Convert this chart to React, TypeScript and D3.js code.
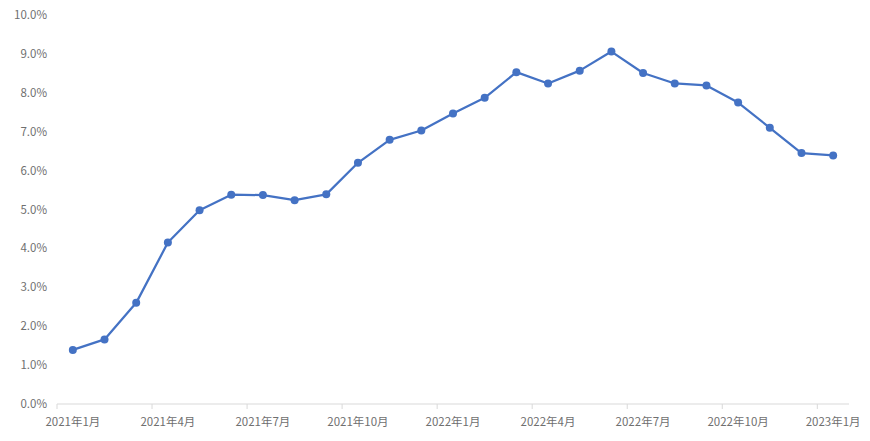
import React from 'react';
import * as d3 from 'd3';

const months = [
    '2021-01', '2021-02', '2021-03', '2021-04', '2021-05', '2021-06', '2021-07', '2021-08', '2021-09',
    '2021-10', '2021-11', '2021-12', '2022-01', '2022-02', '2022-03', '2022-04', '2022-05', '2022-06',
    '2022-07', '2022-08', '2022-09', '2022-10', '2022-11', '2022-12', '2023-01',
];
const rates = [
    1.39, 1.66, 2.60, 4.15, 4.98, 5.38, 5.37, 5.24, 5.39,
    6.20, 6.79, 7.03, 7.47, 7.87, 8.53, 8.24, 8.57, 9.06,
    8.51, 8.24, 8.19, 7.75, 7.10, 6.45, 6.39,
];
const tickMonths = ['2021-01', '2021-04', '2021-07', '2021-10', '2022-01', '2022-04', '2022-07', '2022-10', '2023-01'];
const tickLabels = ['2021年1月', '2021年4月', '2021年7月', '2021年10月', '2022年1月', '2022年4月', '2022年7月', '2022年10月', '2023年1月'];
const yTicks = [0, 1, 2, 3, 4, 5, 6, 7, 8, 9, 10];

const W = 870;
const H = 441;
const left = 57;
const right = 849;
const top = 15;
const bottom = 404;
const font = '"Noto Sans CJK JP", "Noto Sans", sans-serif';
const blue = '#4472C4';
const textGray = '#6f6f6f';

export default function App() {
    const x = d3.scaleBand<string>().domain(months).range([left, right]).padding(0);
    const y = d3.scaleLinear().domain([0, 10]).range([bottom, top]);
    const cx = (m: string) => (x(m) ?? 0) + x.bandwidth() / 2;

    const line = d3.line<number>()
        .x((_, i) => cx(months[i]))
        .y(d => y(d));

    return (
        <svg width={W} height={H} style={{ position: 'absolute', left: 0, top: 0, background: '#fff' }}>
            {/* y labels, no gridlines */}
            {yTicks.map(t => (
                <text key={t} x={47} y={y(t)} dy="0.35em" textAnchor="end"
                    fontSize={11.5} fill={textGray} fontFamily={font}>
                    {d3.format('.1f')(t)}%
                </text>
            ))}
            {/* x axis */}
            <line x1={left} x2={right} y1={bottom} y2={bottom} stroke="#d9d9d9" strokeWidth={1} />
            {tickMonths.map(m => (
                <line key={m} x1={x(m)} x2={x(m)} y1={bottom} y2={bottom + 5} stroke="#d9d9d9" strokeWidth={1} />
            ))}
            {tickMonths.map((m, i) => (
                <text key={m} x={cx(m)} y={422} dy="0.35em" textAnchor="middle"
                    fontSize={11.5} fill={textGray} fontFamily={font}>
                    {tickLabels[i]}
                </text>
            ))}
            <path d={line(rates) ?? ''} fill="none" stroke={blue} strokeWidth={2.25} strokeLinejoin="round" />
            {rates.map((v, i) => (
                <circle key={months[i]} cx={cx(months[i])} cy={y(v)} r={4} fill={blue} />
            ))}
        </svg>
    );
}
